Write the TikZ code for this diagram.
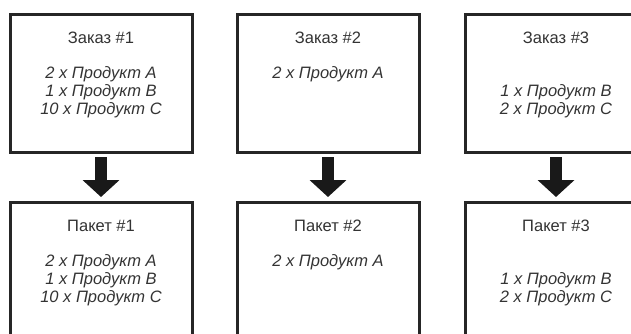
\documentclass[tikz,border=0pt]{standalone}
\usepackage{fontspec}
\setmainfont{Liberation Sans}
\usetikzlibrary{arrows.meta, positioning, calc}
\tikzset{box/.style = {
  % Rectangle:
  rectangle, draw=black!85,
  line width = 3pt, outer sep = 0pt,
  minimum width = 182pt, minimum height = 138pt,
  anchor = north west
  }}
\tikzset{title/.style = {
  font = \fontsize{16.5}{18}\selectfont,
  text = black!80,
  inner sep = 0pt
  }}
\tikzset{items/.style = {
  font = \fontsize{16.5}{18}\selectfont\itshape,
  text = black!80,
  align = center, anchor = north,
  inner sep = 0pt
  }}
\tikzset{bigarrow/.style = {
  -{Triangle[width=36pt, length=17pt]},
  line width = 12pt,
  shorten <= 5pt,
  shorten >= 5pt,
  draw=black!90
  }}

\begin{document}
\begin{tikzpicture}[x=1pt, y=1pt]
\path[use as bounding box, clip] (0,0) rectangle (631,-333);

% NODES
\node (zakaz1) [box] at (10,-14) {};
\node (zakaz2) [box] at (237,-14) {};
\node (zakaz3) [box] at (465,-14) {};

\node (paket1) [box] at (10,-202) {};
\node (paket2) [box] at (237,-202) {};
\node (paket3) [box] at (465,-202) {};

% texts
\node (zakaz1t) [title] at ([yshift=-24pt]zakaz1.north) {Заказ \#1};
\node (zakaz1l) [items] at ([yshift=-52pt]zakaz1.north) {2 x Продукт A\\1 x Продукт B\\10 x Продукт C};

\node (zakaz2t) [title] at ([yshift=-24pt]zakaz2.north) {Заказ \#2};
\node (zakaz2l) [items] at ([yshift=-52pt]zakaz2.north) {2 x Продукт A};

\node (zakaz3t) [title] at ([yshift=-24pt]zakaz3.north) {Заказ \#3};
\node (zakaz3l) [items] at ([yshift=-70pt]zakaz3.north) {1 x Продукт B\\2 x Продукт C};

\node (paket1t) [title] at ([yshift=-24pt]paket1.north) {Пакет \#1};
\node (paket1l) [items] at ([yshift=-52pt]paket1.north) {2 x Продукт A\\1 x Продукт B\\10 x Продукт C};

\node (paket2t) [title] at ([yshift=-24pt]paket2.north) {Пакет \#2};
\node (paket2l) [items] at ([yshift=-52pt]paket2.north) {2 x Продукт A};

\node (paket3t) [title] at ([yshift=-24pt]paket3.north) {Пакет \#3};
\node (paket3l) [items] at ([yshift=-70pt]paket3.north) {1 x Продукт B\\2 x Продукт C};

% arrows
\draw [bigarrow] (zakaz1.south) -- (paket1.north);
\draw [bigarrow] (zakaz2.south) -- (paket2.north);
\draw [bigarrow] (zakaz3.south) -- (paket3.north);
\end{tikzpicture}
\end{document}
